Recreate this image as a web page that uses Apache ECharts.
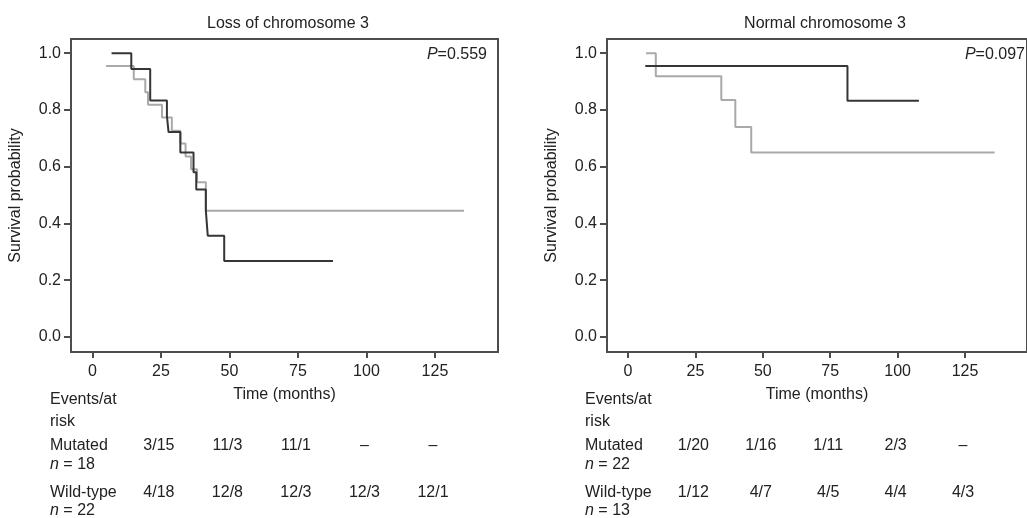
<!DOCTYPE html>
<html>
<head>
<meta charset="utf-8">
<script src="https://cdn.jsdelivr.net/npm/echarts@6/dist/echarts.min.js"></script>
<style>
  html, body { margin: 0; padding: 0; background: #fff; }
  #chart { width: 1027px; height: 518px; }
</style>
</head>
<body>
<div id="chart"></div>
<script>
// Loss of chromosome 3
var lossMutTime = [7, 14.2, 21.1, 27.2, 27.8, 32.1, 36.9, 37.9, 41.4, 42.1, 48.1, 87.8];
var lossMutSurv = [1.0, 0.944, 0.833, 0.778, 0.722, 0.65, 0.58, 0.52, 0.445, 0.357, 0.268, 0.268];
var lossWildTime = [5, 15.1, 19.3, 20.3, 25.4, 29.0, 32.1, 34.0, 36.0, 38.2, 41.4, 135.6];
var lossWildSurv = [0.955, 0.908, 0.862, 0.818, 0.773, 0.727, 0.682, 0.636, 0.591, 0.545, 0.445, 0.445];

// Normal chromosome 3
var normMutTime = [6.4, 81.4, 107.9];
var normMutSurv = [0.955, 0.832, 0.832];
var normWildTime = [6.7, 10.3, 34.6, 39.8, 45.7, 136];
var normWildSurv = [1.0, 0.919, 0.835, 0.74, 0.65, 0.65];

var xTicks = [0, 25, 50, 75, 100, 125];
var yTicks = [0, 0.2, 0.4, 0.6, 0.8, 1.0];
var riskTimes = [25, 50, 75, 100, 125];
var lossMutRisk = ['3/15', '11/3', '11/1', '–', '–'];
var lossWildRisk = ['4/18', '12/8', '12/3', '12/3', '12/1'];
var normMutRisk = ['1/20', '1/16', '1/11', '2/3', '–'];
var normWildRisk = ['1/12', '4/7', '4/5', '4/4', '4/3'];
var pValues = ['0.559', '0.097'];
var titles = ['Loss of chromosome 3', 'Normal chromosome 3'];
var nMut = [18, 22];
var nWild = [22, 13];

var font = '"Liberation Sans", Arial, sans-serif';
var fs = 16;
var frame = '#4d4d4d';
var dark = '#353535';
var light = '#a9a9a9';

function pairs(t, s) {
  return t.map(function (v, i) { return [v, s[i]]; });
}

function xAxis(i) {
  return {
    type: 'value', gridIndex: i, min: -7.8, max: 148,
    name: 'Time (months)', nameLocation: 'middle', nameGap: 35,
    nameTextStyle: { fontFamily: font, fontSize: fs, color: '#222' },
    axisLine: { show: true, onZero: false, lineStyle: { color: frame, width: 2 } },
    axisTick: { show: true, length: 6, customValues: xTicks, lineStyle: { color: frame, width: 2 } },
    axisLabel: { customValues: xTicks, margin: 12, fontFamily: font, fontSize: fs, color: '#222' },
    splitLine: { show: false }
  };
}

function yAxis(i) {
  return {
    type: 'value', gridIndex: i, min: -0.053, max: 1.05,
    name: 'Survival probability', nameLocation: 'middle', nameGap: 47,
    nameTextStyle: { fontFamily: font, fontSize: fs, color: '#222' },
    axisLine: { show: true, onZero: false, lineStyle: { color: frame, width: 2 } },
    axisTick: { show: true, length: 7, customValues: yTicks, lineStyle: { color: frame, width: 2 } },
    axisLabel: {
      customValues: yTicks, margin: 10, fontFamily: font, fontSize: fs, color: '#222',
      formatter: function (v) { return v.toFixed(1); }
    },
    splitLine: { show: false }
  };
}

function line(data, color, i) {
  return {
    type: 'line', step: 'end', xAxisIndex: i, yAxisIndex: i,
    data: data, showSymbol: false, symbol: 'none', animation: false,
    lineStyle: { color: color, width: 2 }
  };
}

var chart = echarts.init(document.getElementById('chart'));
var option = {
  animation: false,
  grid: [
    { left: 71, top: 39, width: 427, height: 313, show: true, borderColor: frame, borderWidth: 2 },
    { left: 607, top: 39, width: 428, height: 313, show: true, borderColor: frame, borderWidth: 2 }
  ],
  title: [
    { text: titles[0], left: 283, top: 11, textAlign: 'center',
      textStyle: { fontFamily: font, fontSize: fs, fontWeight: 'normal', color: '#222' } },
    { text: titles[1], left: 820, top: 11, textAlign: 'center',
      textStyle: { fontFamily: font, fontSize: fs, fontWeight: 'normal', color: '#222' } }
  ],
  xAxis: [xAxis(0), xAxis(1)],
  yAxis: [yAxis(0), yAxis(1)],
  series: [
    line(pairs(lossWildTime, lossWildSurv), light, 0),
    line(pairs(lossMutTime, lossMutSurv), dark, 0),
    line(pairs(normWildTime, normWildSurv), light, 1),
    line(pairs(normMutTime, normMutSurv), dark, 1)
  ]
};
chart.setOption(option);

// p-values and the events/at-risk table
var rich = { i: { fontStyle: 'italic', fontFamily: font, fontSize: fs, fill: '#222' } };
function txt(x, y, s, align) {
  return {
    type: 'text', x: x, y: y,
    style: { text: s, rich: rich, fontFamily: font, fontSize: fs, fill: '#222',
      align: align || 'left', verticalAlign: 'middle' }
  };
}
var g = [];
var labelX = [50, 585];
var pRight = [487, 1025];
var rowY = [400, 422, 446, 465, 493, 511];
var mutRisk = [lossMutRisk, normMutRisk];
var wildRisk = [lossWildRisk, normWildRisk];
for (var k = 0; k < 2; k++) {
  g.push(txt(pRight[k], 55, '{i|P}=' + pValues[k], 'right'));
  g.push(txt(labelX[k], rowY[0], 'Events/at'));
  g.push(txt(labelX[k], rowY[1], 'risk'));
  g.push(txt(labelX[k], rowY[2], 'Mutated'));
  g.push(txt(labelX[k], rowY[3], '{i|n} = ' + nMut[k]));
  g.push(txt(labelX[k], rowY[4], 'Wild-type'));
  g.push(txt(labelX[k], rowY[5], '{i|n} = ' + nWild[k]));
  for (var j = 0; j < riskTimes.length; j++) {
    var px = chart.convertToPixel({ xAxisIndex: k }, riskTimes[j]) - 2;
    g.push(txt(px, rowY[2], mutRisk[k][j], 'center'));
    g.push(txt(px, rowY[4], wildRisk[k][j], 'center'));
  }
}
chart.setOption({ graphic: g });
</script>
</body>
</html>
